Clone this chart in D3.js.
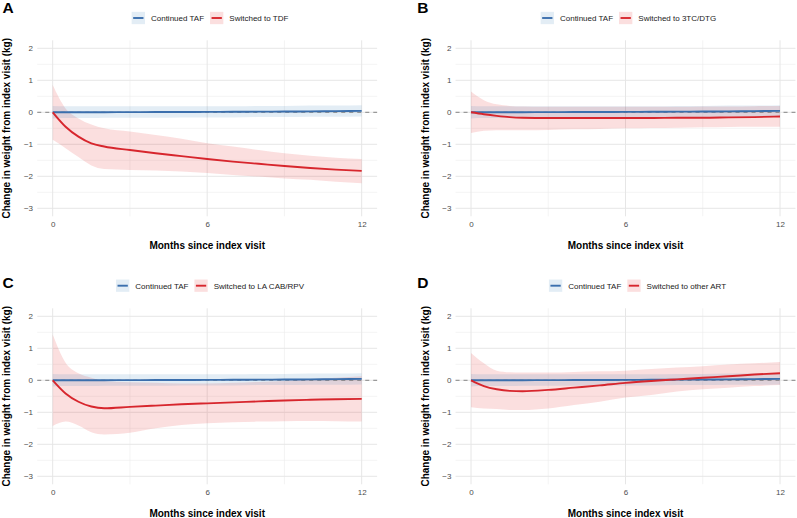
<!DOCTYPE html>
<html>
<head>
<meta charset="utf-8">
<script src="https://cdn.jsdelivr.net/npm/d3@7"></script>
<style>
  html, body { margin: 0; padding: 0; background: #fff; }
  svg { display: block; font-family: "Liberation Sans", Arial, Helvetica, sans-serif; }
</style>
</head>
<body>
<svg id="chart" width="797" height="518"></svg>
<script>
// ---------------- data ----------------
const months = [0, 0.5, 1, 1.5, 2, 3, 4, 5, 6, 7, 8, 9, 10, 11, 12];
const xTicks = [0, 6, 12];
const xMinor = [3, 9];
const yTicks = [-3, -2, -1, 0, 1, 2];
const yMinor = [-2.5, -1.5, -0.5, 0.5, 1.5];

const panelLabels = ["A", "B", "C", "D"];
const refName = "Continued TAF";
const switchNames = ["Switched to TDF", "Switched to 3TC/DTG", "Switched to LA CAB/RPV", "Switched to other ART"];
const xTitle = "Months since index visit";
const yTitle = "Change in weight from index visit (kg)";

// Continued TAF (reference group)
const tafFit   = [0, 0, 0, 0.002, 0.003, 0.005, 0.008, 0.01, 0.013, 0.016, 0.02, 0.024, 0.03, 0.037, 0.045];
const tafUpper = [0.2, 0.19, 0.19, 0.19, 0.19, 0.19, 0.19, 0.19, 0.19, 0.19, 0.2, 0.2, 0.21, 0.21, 0.22];
const tafLower = [-0.19, -0.18, -0.18, -0.18, -0.17, -0.17, -0.17, -0.16, -0.16, -0.16, -0.15, -0.15, -0.14, -0.14, -0.13];

// A: Switched to TDF
const tdfFit   = [0, -0.45, -0.76, -0.97, -1.07, -1.18, -1.28, -1.37, -1.46, -1.54, -1.61, -1.68, -1.74, -1.79, -1.83];
const tdfUpper = [0.85, 0.12, -0.19, -0.38, -0.5, -0.6, -0.71, -0.83, -0.97, -1.07, -1.18, -1.28, -1.36, -1.42, -1.46];
const tdfLower = [-0.86, -1.12, -1.4, -1.66, -1.77, -1.8, -1.82, -1.85, -1.9, -1.96, -2.01, -2.07, -2.11, -2.17, -2.22];

// B: Switched to 3TC/DTG
const dtgFit   = [0, -0.06, -0.11, -0.15, -0.17, -0.18, -0.18, -0.18, -0.18, -0.18, -0.17, -0.17, -0.16, -0.15, -0.13];
const dtgUpper = [0.65, 0.38, 0.25, 0.2, 0.18, 0.17, 0.17, 0.17, 0.17, 0.17, 0.17, 0.18, 0.18, 0.19, 0.2];
const dtgLower = [-0.65, -0.58, -0.56, -0.56, -0.56, -0.55, -0.53, -0.52, -0.5, -0.49, -0.48, -0.47, -0.46, -0.45, -0.45];

// C: Switched to LA CAB/RPV
const cabFit   = [0, -0.41, -0.67, -0.82, -0.875, -0.83, -0.79, -0.75, -0.72, -0.69, -0.66, -0.63, -0.61, -0.59, -0.58];
const cabUpper = [1.43, 0.55, 0.22, 0.08, -0.02, -0.06, -0.08, -0.1, -0.1, -0.08, -0.05, -0.02, 0.03, 0.08, 0.13];
const cabLower = [-1.43, -1.29, -1.41, -1.62, -1.69, -1.64, -1.5, -1.4, -1.34, -1.31, -1.29, -1.28, -1.27, -1.28, -1.29];

// D: Switched to other ART
const othFit   = [0, -0.18, -0.28, -0.33, -0.34, -0.3, -0.23, -0.16, -0.08, -0.02, 0.03, 0.08, 0.125, 0.18, 0.22];
const othUpper = [0.85, 0.53, 0.3, 0.25, 0.24, 0.24, 0.26, 0.28, 0.3, 0.35, 0.4, 0.44, 0.49, 0.53, 0.57];
const othLower = [-0.84, -0.88, -0.9, -0.93, -0.93, -0.88, -0.77, -0.67, -0.54, -0.46, -0.35, -0.28, -0.23, -0.18, -0.15];

const switchFits   = [tdfFit, dtgFit, cabFit, othFit];
const switchUppers = [tdfUpper, dtgUpper, cabUpper, othUpper];
const switchLowers = [tdfLower, dtgLower, cabLower, othLower];

// ---------------- styling / layout ----------------
const blue = "#3b6fad", red = "#d7262d";
const ribbonOpacity = 0.14;
const svg = d3.select("#chart");
const tickFmt = d3.format("d");

const layouts = [
  { x0: 52.7, y0: 112.3, labelX: 2.5,   labelY: 12.7, titleX: 10,    legendCX: 210,   legendCY: 18 },
  { x0: 471,  y0: 112.3, labelX: 417.3, labelY: 12.7, titleX: 428.5, legendCX: 628.4, legendCY: 18 },
  { x0: 52.7, y0: 380.3, labelX: 2.5,   labelY: 288,  titleX: 10,    legendCX: 210,   legendCY: 285.7 },
  { x0: 471,  y0: 380.3, labelX: 417.3, labelY: 288,  titleX: 428.5, legendCX: 637.5, legendCY: 285.7 }
];
const pxPerMonth = 25.75, pxPerKg = 32;

layouts.forEach((L, i) => {
  const g = svg.append("g");
  const x = d3.scaleLinear().domain([-0.6, 12.6]).range([L.x0 - 0.6 * pxPerMonth, L.x0 + 12.6 * pxPerMonth]);
  const y = d3.scaleLinear().domain([-3.25, 2.25]).range([L.y0 + 3.25 * pxPerKg, L.y0 - 2.25 * pxPerKg]);
  const [xl, xr] = x.range();
  const [yb, yt] = y.range();

  // grid
  const grid = g.append("g");
  yMinor.forEach(v => grid.append("line").attr("x1", xl).attr("x2", xr).attr("y1", y(v)).attr("y2", y(v))
    .attr("stroke", "#ededed").attr("stroke-width", 0.6));
  xMinor.forEach(v => grid.append("line").attr("y1", yt).attr("y2", yb).attr("x1", x(v)).attr("x2", x(v))
    .attr("stroke", "#ededed").attr("stroke-width", 0.6));
  yTicks.forEach(v => grid.append("line").attr("x1", xl).attr("x2", xr).attr("y1", y(v)).attr("y2", y(v))
    .attr("stroke", "#e6e6e6").attr("stroke-width", 1));
  xTicks.forEach(v => grid.append("line").attr("y1", yt).attr("y2", yb).attr("x1", x(v)).attr("x2", x(v))
    .attr("stroke", "#e6e6e6").attr("stroke-width", 1));

  const curve = d3.curveMonotoneX;
  const area = d3.area().x((d, k) => x(months[k])).y0(d => y(d[0])).y1(d => y(d[1])).curve(curve);
  const line = d3.line().x((d, k) => x(months[k])).y(d => y(d)).curve(curve);

  const swBand = months.map((m, k) => [switchLowers[i][k], switchUppers[i][k]]);
  const tafBand = months.map((m, k) => [tafLower[k], tafUpper[k]]);

  g.append("path").attr("d", area(swBand)).attr("fill", "#e41a1c").attr("fill-opacity", ribbonOpacity);
  g.append("path").attr("d", area(tafBand)).attr("fill", "#377eb8").attr("fill-opacity", ribbonOpacity);

  // reference line at 0
  g.append("line").attr("x1", xl).attr("x2", xr).attr("y1", y(0)).attr("y2", y(0))
    .attr("stroke", "#6b6b6b").attr("stroke-width", 0.8).attr("stroke-dasharray", "4,4");

  g.append("path").attr("d", line(tafFit)).attr("fill", "none").attr("stroke", blue).attr("stroke-width", 1.9);
  g.append("path").attr("d", line(switchFits[i])).attr("fill", "none").attr("stroke", red).attr("stroke-width", 1.9);

  // axes
  const ya = g.append("g").attr("transform", `translate(${xl},0)`)
    .call(d3.axisLeft(y).tickValues(yTicks).tickFormat(tickFmt).tickSize(0).tickPadding(4.2));
  const xa = g.append("g").attr("transform", `translate(0,${yb})`)
    .call(d3.axisBottom(x).tickValues(xTicks).tickFormat(tickFmt).tickSize(0).tickPadding(5.2));
  [ya, xa].forEach(a => {
    a.select(".domain").remove();
    a.selectAll("text").attr("font-size", 8).attr("fill", "#4d4d4d")
      .attr("font-family", "'Liberation Sans', Arial, sans-serif");
  });

  // axis titles
  g.append("text").attr("x", (xl + xr) / 2).attr("y", yb + 33)
    .attr("text-anchor", "middle").attr("font-size", 10).attr("font-weight", "bold").attr("fill", "#000")
    .text(xTitle);
  g.append("text").attr("transform", `translate(${L.titleX},${(yt + yb) / 2}) rotate(-90)`)
    .attr("text-anchor", "middle").attr("font-size", 10).attr("font-weight", "bold").attr("fill", "#000")
    .text(yTitle);

  // panel label
  g.append("text").attr("x", L.labelX).attr("y", L.labelY).attr("font-size", 15.5).attr("font-weight", "bold")
    .attr("fill", "#000").text(panelLabels[i]);

  // legend
  const lg = g.append("g");
  const keyW = 13.3, keyH = 12.3, gap = 6;
  const items = [
    { name: refName, col: blue, fill: "#377eb8" },
    { name: switchNames[i], col: red, fill: "#e41a1c" }
  ];
  const widths = items.map(it => {
    const t = lg.append("text").attr("font-size", 8).text(it.name);
    const w = t.node().getComputedTextLength();
    t.remove();
    return w;
  });
  const total = items.length * (keyW + gap) + widths[0] + gap + widths[1];
  let cx = L.legendCX - total / 2;
  items.forEach((it, k) => {
    lg.append("rect").attr("x", cx).attr("y", L.legendCY - keyH / 2).attr("width", keyW).attr("height", keyH)
      .attr("fill", it.fill).attr("fill-opacity", ribbonOpacity);
    lg.append("line").attr("x1", cx + 1.5).attr("x2", cx + keyW - 1.5).attr("y1", L.legendCY).attr("y2", L.legendCY)
      .attr("stroke", it.col).attr("stroke-width", 1.9);
    cx += keyW + gap;
    lg.append("text").attr("x", cx).attr("y", L.legendCY).attr("dy", "0.35em")
      .attr("font-size", 8).attr("fill", "#1a1a1a").text(it.name);
    cx += widths[k] + gap;
  });
});
</script>
</body>
</html>
